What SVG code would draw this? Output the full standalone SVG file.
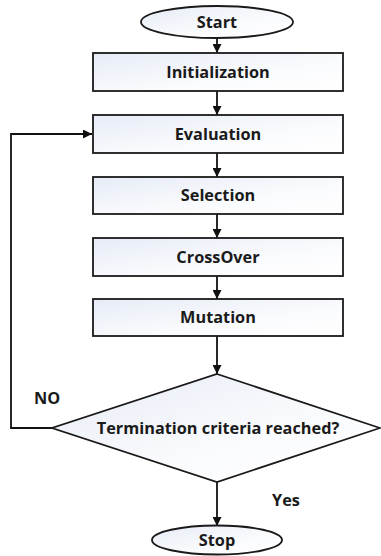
<svg xmlns="http://www.w3.org/2000/svg" width="381" height="556" viewBox="0 0 381 556">
<defs>
<linearGradient id="g" x1="0" y1="0" x2="1" y2="1">
<stop offset="0" stop-color="#e6ebf6"/>
<stop offset="0.6" stop-color="#fafbfd"/>
<stop offset="1" stop-color="#ffffff"/>
</linearGradient>
<marker id="ah" viewBox="0 0 10 10" refX="10" refY="5" markerWidth="9" markerHeight="9" markerUnits="userSpaceOnUse" orient="auto">
<path d="M0,0 L10,5 L0,10 Z" fill="#111"/>
</marker>
<style>
.s{fill:url(#g);stroke:#1a1a1a;stroke-width:1.8}
.t{font-family:"Open Sans","DejaVu Sans",sans-serif;font-weight:bold;font-size:16.3px;fill:#1a1a1a;text-anchor:middle}
.c{fill:none;stroke:#111;stroke-width:1.8;marker-end:url(#ah)}
</style>
</defs>
<rect width="381" height="556" fill="#fff"/>
<g id="connectors">
<line class="c" x1="217" y1="38" x2="217" y2="53"/>
<line class="c" x1="217" y1="91" x2="217" y2="115"/>
<line class="c" x1="217" y1="153" x2="217" y2="177"/>
<line class="c" x1="217" y1="214" x2="217" y2="238"/>
<line class="c" x1="217" y1="276" x2="217" y2="299"/>
<line class="c" x1="217" y1="336" x2="217" y2="374"/>
<line class="c" x1="217" y1="482" x2="217" y2="526"/>
<polyline class="c" points="52,428 11,428 11,134 92,134"/>
<text class="t" x="47" y="404">NO</text>
<text class="t" x="286" y="506">Yes</text>
</g>
<g id="start"><ellipse class="s" cx="217" cy="22" rx="76" ry="16"/><text class="t" x="217" y="28">Start</text></g>
<g id="init"><rect class="s" x="93" y="53" width="250" height="38"/><text class="t" x="218" y="78">Initialization</text></g>
<g id="eval"><rect class="s" x="93" y="115" width="250" height="38"/><text class="t" x="218" y="140">Evaluation</text></g>
<g id="sel"><rect class="s" x="93" y="177" width="250" height="37"/><text class="t" x="218" y="201">Selection</text></g>
<g id="cross"><rect class="s" x="93" y="238" width="250" height="38"/><text class="t" x="218" y="263">CrossOver</text></g>
<g id="mut"><rect class="s" x="93" y="299" width="250" height="37"/><text class="t" x="218" y="323">Mutation</text></g>
<g id="term"><polygon class="s" points="217,374 380,428 217,482 52,428"/><text class="t" x="218" y="434">Termination criteria reached?</text></g>
<g id="stop"><ellipse class="s" cx="217" cy="540" rx="65" ry="14.5"/><text class="t" x="217" y="546">Stop</text></g>
</svg>
